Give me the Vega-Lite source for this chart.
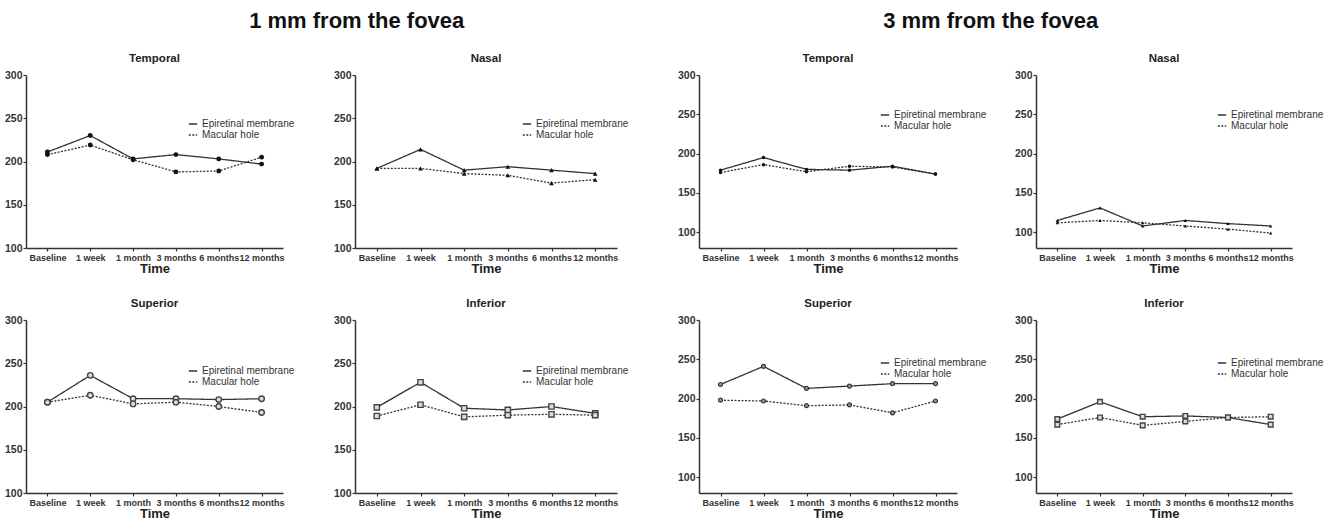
{
  "$schema": "https://vega.github.io/schema/vega-lite/v6.json",
  "padding": {"left": 4, "top": 9, "right": 4, "bottom": 2},
  "background": "white",
  "datasets": {
    "thk": [
      {"p":"1T","g":"Epiretinal membrane","t":"Baseline","v":211},{"p":"1T","g":"Epiretinal membrane","t":"1 week","v":230},{"p":"1T","g":"Epiretinal membrane","t":"1 month","v":203},{"p":"1T","g":"Epiretinal membrane","t":"3 months","v":208},{"p":"1T","g":"Epiretinal membrane","t":"6 months","v":203},{"p":"1T","g":"Epiretinal membrane","t":"12 months","v":197},
      {"p":"1T","g":"Macular hole","t":"Baseline","v":208},{"p":"1T","g":"Macular hole","t":"1 week","v":219},{"p":"1T","g":"Macular hole","t":"1 month","v":202},{"p":"1T","g":"Macular hole","t":"3 months","v":188},{"p":"1T","g":"Macular hole","t":"6 months","v":189},{"p":"1T","g":"Macular hole","t":"12 months","v":205},
      {"p":"1N","g":"Epiretinal membrane","t":"Baseline","v":192},{"p":"1N","g":"Epiretinal membrane","t":"1 week","v":214},{"p":"1N","g":"Epiretinal membrane","t":"1 month","v":190},{"p":"1N","g":"Epiretinal membrane","t":"3 months","v":194},{"p":"1N","g":"Epiretinal membrane","t":"6 months","v":190},{"p":"1N","g":"Epiretinal membrane","t":"12 months","v":186},
      {"p":"1N","g":"Macular hole","t":"Baseline","v":192},{"p":"1N","g":"Macular hole","t":"1 week","v":192},{"p":"1N","g":"Macular hole","t":"1 month","v":186},{"p":"1N","g":"Macular hole","t":"3 months","v":184},{"p":"1N","g":"Macular hole","t":"6 months","v":175},{"p":"1N","g":"Macular hole","t":"12 months","v":179},
      {"p":"3T","g":"Epiretinal membrane","t":"Baseline","v":179},{"p":"3T","g":"Epiretinal membrane","t":"1 week","v":195},{"p":"3T","g":"Epiretinal membrane","t":"1 month","v":180},{"p":"3T","g":"Epiretinal membrane","t":"3 months","v":179},{"p":"3T","g":"Epiretinal membrane","t":"6 months","v":184},{"p":"3T","g":"Epiretinal membrane","t":"12 months","v":174},
      {"p":"3T","g":"Macular hole","t":"Baseline","v":176},{"p":"3T","g":"Macular hole","t":"1 week","v":186},{"p":"3T","g":"Macular hole","t":"1 month","v":177},{"p":"3T","g":"Macular hole","t":"3 months","v":184},{"p":"3T","g":"Macular hole","t":"6 months","v":183},{"p":"3T","g":"Macular hole","t":"12 months","v":174},
      {"p":"3N","g":"Epiretinal membrane","t":"Baseline","v":115},{"p":"3N","g":"Epiretinal membrane","t":"1 week","v":131},{"p":"3N","g":"Epiretinal membrane","t":"1 month","v":108},{"p":"3N","g":"Epiretinal membrane","t":"3 months","v":115},{"p":"3N","g":"Epiretinal membrane","t":"6 months","v":111},{"p":"3N","g":"Epiretinal membrane","t":"12 months","v":108},
      {"p":"3N","g":"Macular hole","t":"Baseline","v":112},{"p":"3N","g":"Macular hole","t":"1 week","v":115},{"p":"3N","g":"Macular hole","t":"1 month","v":112},{"p":"3N","g":"Macular hole","t":"3 months","v":108},{"p":"3N","g":"Macular hole","t":"6 months","v":104},{"p":"3N","g":"Macular hole","t":"12 months","v":99},
      {"p":"1S","g":"Epiretinal membrane","t":"Baseline","v":205},{"p":"1S","g":"Epiretinal membrane","t":"1 week","v":236},{"p":"1S","g":"Epiretinal membrane","t":"1 month","v":209},{"p":"1S","g":"Epiretinal membrane","t":"3 months","v":209},{"p":"1S","g":"Epiretinal membrane","t":"6 months","v":208},{"p":"1S","g":"Epiretinal membrane","t":"12 months","v":209},
      {"p":"1S","g":"Macular hole","t":"Baseline","v":205},{"p":"1S","g":"Macular hole","t":"1 week","v":213},{"p":"1S","g":"Macular hole","t":"1 month","v":203},{"p":"1S","g":"Macular hole","t":"3 months","v":205},{"p":"1S","g":"Macular hole","t":"6 months","v":200},{"p":"1S","g":"Macular hole","t":"12 months","v":193},
      {"p":"1I","g":"Epiretinal membrane","t":"Baseline","v":199},{"p":"1I","g":"Epiretinal membrane","t":"1 week","v":228},{"p":"1I","g":"Epiretinal membrane","t":"1 month","v":198},{"p":"1I","g":"Epiretinal membrane","t":"3 months","v":196},{"p":"1I","g":"Epiretinal membrane","t":"6 months","v":200},{"p":"1I","g":"Epiretinal membrane","t":"12 months","v":192},
      {"p":"1I","g":"Macular hole","t":"Baseline","v":189},{"p":"1I","g":"Macular hole","t":"1 week","v":202},{"p":"1I","g":"Macular hole","t":"1 month","v":188},{"p":"1I","g":"Macular hole","t":"3 months","v":190},{"p":"1I","g":"Macular hole","t":"6 months","v":191},{"p":"1I","g":"Macular hole","t":"12 months","v":190},
      {"p":"3S","g":"Epiretinal membrane","t":"Baseline","v":218},{"p":"3S","g":"Epiretinal membrane","t":"1 week","v":241},{"p":"3S","g":"Epiretinal membrane","t":"1 month","v":213},{"p":"3S","g":"Epiretinal membrane","t":"3 months","v":216},{"p":"3S","g":"Epiretinal membrane","t":"6 months","v":219},{"p":"3S","g":"Epiretinal membrane","t":"12 months","v":219},
      {"p":"3S","g":"Macular hole","t":"Baseline","v":198},{"p":"3S","g":"Macular hole","t":"1 week","v":197},{"p":"3S","g":"Macular hole","t":"1 month","v":191},{"p":"3S","g":"Macular hole","t":"3 months","v":192},{"p":"3S","g":"Macular hole","t":"6 months","v":182},{"p":"3S","g":"Macular hole","t":"12 months","v":197},
      {"p":"3I","g":"Epiretinal membrane","t":"Baseline","v":174},{"p":"3I","g":"Epiretinal membrane","t":"1 week","v":196},{"p":"3I","g":"Epiretinal membrane","t":"1 month","v":177},{"p":"3I","g":"Epiretinal membrane","t":"3 months","v":178},{"p":"3I","g":"Epiretinal membrane","t":"6 months","v":176},{"p":"3I","g":"Epiretinal membrane","t":"12 months","v":167},
      {"p":"3I","g":"Macular hole","t":"Baseline","v":167},{"p":"3I","g":"Macular hole","t":"1 week","v":176},{"p":"3I","g":"Macular hole","t":"1 month","v":166},{"p":"3I","g":"Macular hole","t":"3 months","v":171},{"p":"3I","g":"Macular hole","t":"6 months","v":176},{"p":"3I","g":"Macular hole","t":"12 months","v":177}
    ]
  },
  "data": {"name": "thk"},
  "spacing": 48,
  "resolve": {"scale": {"strokeDash": "independent"}, "legend": {"strokeDash": "independent"}},
  "hconcat": [
    {
      "title": {"text": "1 mm from the fovea", "fontSize": 22, "anchor": "middle", "dx": 40, "offset": 20, "color": "#111"},
      "spacing": 22,
      "resolve": {"scale": {"strokeDash": "independent"}, "legend": {"strokeDash": "independent"}},
      "vconcat": [
        {
          "spacing": 38,
          "resolve": {"scale": {"strokeDash": "independent"}, "legend": {"strokeDash": "independent"}},
          "hconcat": [
            {
              "title": "Temporal", "width": 257, "height": 173,
              "transform": [{"filter": "datum.p == '1T'"}],
              "encoding": {
                "x": {"field": "t", "type": "ordinal", "sort": ["Baseline","1 week","1 month","3 months","6 months","12 months"], "scale": {"type": "point", "padding": 0.5}, "title": "Time"},
                "y": {"field": "v", "type": "quantitative", "scale": {"domain": [100, 300], "nice": false, "zero": false}, "axis": {"values": [100,150,200,250,300]}}
              },
              "layer": [
                {"mark": {"type": "line", "color": "#333", "strokeWidth": 1.3},
                 "encoding": {"strokeDash": {"field": "g", "type": "nominal", "scale": {"domain": ["Epiretinal membrane","Macular hole"], "range": [[1,0],[2,1.5]]}, "legend": {"orient": "none", "legendX": 162, "legendY": 44}}}},
                {"mark": {"type": "point", "shape": "circle", "filled": true, "size": 24, "color": "#111", "opacity": 1},
                 "encoding": {"detail": {"field": "g"}}}
              ]
            },
            {
              "title": "Nasal", "width": 262, "height": 173,
              "transform": [{"filter": "datum.p == '1N'"}],
              "encoding": {
                "x": {"field": "t", "type": "ordinal", "sort": ["Baseline","1 week","1 month","3 months","6 months","12 months"], "scale": {"type": "point", "padding": 0.5}, "title": "Time"},
                "y": {"field": "v", "type": "quantitative", "scale": {"domain": [100, 300], "nice": false, "zero": false}, "axis": {"values": [100,150,200,250,300]}}
              },
              "layer": [
                {"mark": {"type": "line", "color": "#333", "strokeWidth": 1.3},
                 "encoding": {"strokeDash": {"field": "g", "type": "nominal", "scale": {"domain": ["Epiretinal membrane","Macular hole"], "range": [[1,0],[2,1.5]]}, "legend": {"orient": "none", "legendX": 167, "legendY": 44}}}},
                {"mark": {"type": "point", "shape": "triangle-up", "filled": true, "size": 22, "color": "#111", "opacity": 1},
                 "encoding": {"detail": {"field": "g"}}}
              ]
            }
          ]
        },
        {
          "spacing": 38,
          "resolve": {"scale": {"strokeDash": "independent"}, "legend": {"strokeDash": "independent"}},
          "hconcat": [
            {
              "title": "Superior", "width": 257, "height": 173,
              "transform": [{"filter": "datum.p == '1S'"}],
              "encoding": {
                "x": {"field": "t", "type": "ordinal", "sort": ["Baseline","1 week","1 month","3 months","6 months","12 months"], "scale": {"type": "point", "padding": 0.5}, "title": "Time"},
                "y": {"field": "v", "type": "quantitative", "scale": {"domain": [100, 300], "nice": false, "zero": false}, "axis": {"values": [100,150,200,250,300]}}
              },
              "layer": [
                {"mark": {"type": "line", "color": "#333", "strokeWidth": 1.3},
                 "encoding": {"strokeDash": {"field": "g", "type": "nominal", "scale": {"domain": ["Epiretinal membrane","Macular hole"], "range": [[1,0],[2,1.5]]}, "legend": {"orient": "none", "legendX": 162, "legendY": 46}}}},
                {"mark": {"type": "point", "shape": "circle", "filled": true, "size": 30, "color": "#ddd", "stroke": "#444", "strokeWidth": 1.4, "opacity": 1},
                 "encoding": {"detail": {"field": "g"}}}
              ]
            },
            {
              "title": "Inferior", "width": 262, "height": 173,
              "transform": [{"filter": "datum.p == '1I'"}],
              "encoding": {
                "x": {"field": "t", "type": "ordinal", "sort": ["Baseline","1 week","1 month","3 months","6 months","12 months"], "scale": {"type": "point", "padding": 0.5}, "title": "Time"},
                "y": {"field": "v", "type": "quantitative", "scale": {"domain": [100, 300], "nice": false, "zero": false}, "axis": {"values": [100,150,200,250,300]}}
              },
              "layer": [
                {"mark": {"type": "line", "color": "#333", "strokeWidth": 1.3},
                 "encoding": {"strokeDash": {"field": "g", "type": "nominal", "scale": {"domain": ["Epiretinal membrane","Macular hole"], "range": [[1,0],[2,1.5]]}, "legend": {"orient": "none", "legendX": 167, "legendY": 46}}}},
                {"mark": {"type": "point", "shape": "square", "filled": true, "size": 28, "color": "#ddd", "stroke": "#444", "strokeWidth": 1.4, "opacity": 1},
                 "encoding": {"detail": {"field": "g"}}}
              ]
            }
          ]
        }
      ]
    },
    {
      "title": {"text": "3 mm from the fovea", "fontSize": 22, "anchor": "middle", "dx": -10, "offset": 20, "color": "#111"},
      "spacing": 22,
      "resolve": {"scale": {"strokeDash": "independent"}, "legend": {"strokeDash": "independent"}},
      "vconcat": [
        {
          "spacing": 27,
          "resolve": {"scale": {"strokeDash": "independent"}, "legend": {"strokeDash": "independent"}},
          "hconcat": [
            {
              "title": "Temporal", "width": 258, "height": 173,
              "transform": [{"filter": "datum.p == '3T'"}],
              "encoding": {
                "x": {"field": "t", "type": "ordinal", "sort": ["Baseline","1 week","1 month","3 months","6 months","12 months"], "scale": {"type": "point", "padding": 0.5}, "title": "Time"},
                "y": {"field": "v", "type": "quantitative", "scale": {"domain": [80, 300], "nice": false, "zero": false}, "axis": {"values": [100,150,200,250,300]}}
              },
              "layer": [
                {"mark": {"type": "line", "color": "#333", "strokeWidth": 1.3},
                 "encoding": {"strokeDash": {"field": "g", "type": "nominal", "scale": {"domain": ["Epiretinal membrane","Macular hole"], "range": [[1,0],[2,1.5]]}, "legend": {"orient": "none", "legendX": 181, "legendY": 35}}}},
                {"mark": {"type": "point", "shape": "circle", "filled": true, "size": 12, "color": "#111", "opacity": 1},
                 "encoding": {"detail": {"field": "g"}}}
              ]
            },
            {
              "title": "Nasal", "width": 256, "height": 173,
              "transform": [{"filter": "datum.p == '3N'"}],
              "encoding": {
                "x": {"field": "t", "type": "ordinal", "sort": ["Baseline","1 week","1 month","3 months","6 months","12 months"], "scale": {"type": "point", "padding": 0.5}, "title": "Time"},
                "y": {"field": "v", "type": "quantitative", "scale": {"domain": [80, 300], "nice": false, "zero": false}, "axis": {"values": [100,150,200,250,300]}}
              },
              "layer": [
                {"mark": {"type": "line", "color": "#333", "strokeWidth": 1.3},
                 "encoding": {"strokeDash": {"field": "g", "type": "nominal", "scale": {"domain": ["Epiretinal membrane","Macular hole"], "range": [[1,0],[2,1.5]]}, "legend": {"orient": "none", "legendX": 181, "legendY": 35}}}},
                {"mark": {"type": "point", "shape": "triangle-up", "filled": true, "size": 12, "color": "#111", "opacity": 1},
                 "encoding": {"detail": {"field": "g"}}}
              ]
            }
          ]
        },
        {
          "spacing": 27,
          "resolve": {"scale": {"strokeDash": "independent"}, "legend": {"strokeDash": "independent"}},
          "hconcat": [
            {
              "title": "Superior", "width": 258, "height": 173,
              "transform": [{"filter": "datum.p == '3S'"}],
              "encoding": {
                "x": {"field": "t", "type": "ordinal", "sort": ["Baseline","1 week","1 month","3 months","6 months","12 months"], "scale": {"type": "point", "padding": 0.5}, "title": "Time"},
                "y": {"field": "v", "type": "quantitative", "scale": {"domain": [80, 300], "nice": false, "zero": false}, "axis": {"values": [100,150,200,250,300]}}
              },
              "layer": [
                {"mark": {"type": "line", "color": "#333", "strokeWidth": 1.3},
                 "encoding": {"strokeDash": {"field": "g", "type": "nominal", "scale": {"domain": ["Epiretinal membrane","Macular hole"], "range": [[1,0],[2,1.5]]}, "legend": {"orient": "none", "legendX": 181, "legendY": 38}}}},
                {"mark": {"type": "point", "shape": "circle", "filled": true, "size": 16, "color": "#999", "stroke": "#333", "strokeWidth": 1.2, "opacity": 1},
                 "encoding": {"detail": {"field": "g"}}}
              ]
            },
            {
              "title": "Inferior", "width": 256, "height": 173,
              "transform": [{"filter": "datum.p == '3I'"}],
              "encoding": {
                "x": {"field": "t", "type": "ordinal", "sort": ["Baseline","1 week","1 month","3 months","6 months","12 months"], "scale": {"type": "point", "padding": 0.5}, "title": "Time"},
                "y": {"field": "v", "type": "quantitative", "scale": {"domain": [80, 300], "nice": false, "zero": false}, "axis": {"values": [100,150,200,250,300]}}
              },
              "layer": [
                {"mark": {"type": "line", "color": "#333", "strokeWidth": 1.3},
                 "encoding": {"strokeDash": {"field": "g", "type": "nominal", "scale": {"domain": ["Epiretinal membrane","Macular hole"], "range": [[1,0],[2,1.5]]}, "legend": {"orient": "none", "legendX": 181, "legendY": 38}}}},
                {"mark": {"type": "point", "shape": "square", "filled": true, "size": 22, "color": "#ddd", "stroke": "#444", "strokeWidth": 1.4, "opacity": 1},
                 "encoding": {"detail": {"field": "g"}}}
              ]
            }
          ]
        }
      ]
    }
  ],
  "config": {
    "font": "Liberation Sans",
    "view": {"stroke": null},
    "axis": {"grid": false, "domainColor": "#333", "domainWidth": 1.5, "tickColor": "#333", "tickSize": 3, "tickWidth": 1.2, "labelFontWeight": "bold", "labelColor": "#333", "titleFontWeight": "bold", "titleColor": "#222"},
    "axisX": {"labelAngle": 0, "labelFontSize": 9, "labelOverlap": false, "labelPadding": 2, "titleFontSize": 13, "titlePadding": 0},
    "axisY": {"labelFontSize": 10.5, "title": null, "labelPadding": 1},
    "title": {"fontSize": 11.5, "fontWeight": "bold", "color": "#222", "offset": 6},
    "legend": {"title": null, "labelFontSize": 10, "labelColor": "#333", "symbolType": "stroke", "symbolSize": 70, "symbolStrokeColor": "#333", "symbolStrokeWidth": 1.5, "rowPadding": 1, "labelOffset": 4}
  }
}
